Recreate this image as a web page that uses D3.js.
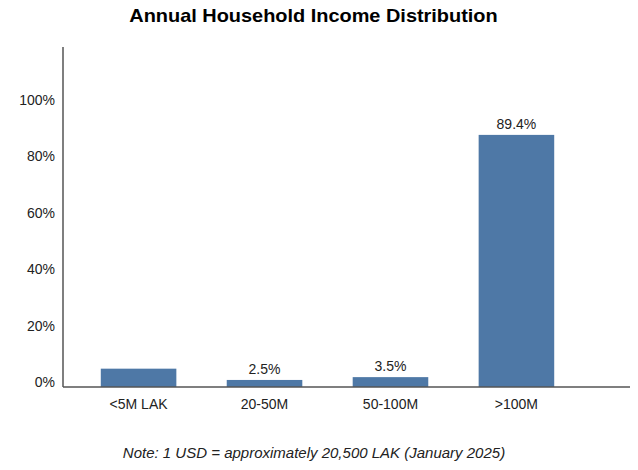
<!DOCTYPE html>
<html>
<head>
<meta charset="utf-8">
<script src="https://cdn.jsdelivr.net/npm/d3@7"></script>
<style>
  html, body { margin: 0; padding: 0; background: #fff; }
  svg { display: block; font-family: "Liberation Sans", Arial, sans-serif; }
</style>
</head>
<body>
<svg id="chart" width="638" height="470"></svg>
<script>
// Income bands and share of households (%)
const categories = ["<5M LAK", "20-50M", "50-100M", ">100M"];
const shares = [6.5, 2.5, 3.5, 89.4];
// Bars that carry a value label
const labelled = [false, true, true, true];
const yTicks = [0, 20, 40, 60, 80, 100];

const svg = d3.select("#chart");
const plotLeft = 63, plotRight = 630, plotTop = 47, plotBottom = 387;

const x = d3.scaleBand()
  .domain(categories)
  .range([plotLeft, 592])
  .paddingInner(0.4)
  .paddingOuter(0.3);

const y = d3.scaleLinear()
  .domain([0, 120])
  .range([plotBottom, 48.6]);

// Title (slightly widened lettering)
svg.append("text")
  .attr("transform", "translate(313.5,22) scale(1.12,1)")
  .attr("text-anchor", "middle")
  .style("font-size", "17.8px").style("font-weight", "bold").style("fill", "#000")
  .text("Annual Household Income Distribution");

// Bars
svg.append("g").selectAll("rect")
  .data(categories)
  .join("rect")
  .attr("x", d => x(d))
  .attr("width", x.bandwidth())
  .attr("y", (d, i) => y(shares[i]))
  .attr("height", (d, i) => y(0) - y(shares[i]))
  .attr("fill", "#4e78a6");

// Value labels
svg.append("g").selectAll("text")
  .data(categories.filter((d, i) => labelled[i]))
  .join("text")
  .attr("x", d => x(d) + x.bandwidth() / 2)
  .attr("y", d => y(shares[categories.indexOf(d)]) - 6)
  .attr("text-anchor", "middle")
  .style("font-size", "14px").style("fill", "#222")
  .text(d => shares[categories.indexOf(d)].toFixed(1) + "%");

// Y axis
const yAxis = svg.append("g")
  .attr("transform", `translate(${plotLeft},0)`)
  .call(d3.axisLeft(y).tickValues(yTicks).tickSize(0).tickSizeOuter(0).tickPadding(8)
    .tickFormat(d => d + "%"));
yAxis.select(".domain").attr("stroke", "#555").attr("stroke-width", 1.5)
  .attr("d", `M0,${plotTop}V${plotBottom}`);
yAxis.selectAll("text")
  .style("font-size", "14px").style("font-family", "'Liberation Sans', Arial, sans-serif")
  .style("fill", "#222").attr("dy", "-0.04em");

// X axis
const xAxis = svg.append("g")
  .attr("transform", `translate(0,${plotBottom})`)
  .call(d3.axisBottom(x).tickSize(0).tickSizeOuter(0).tickPadding(12));
xAxis.select(".domain").attr("stroke", "#555").attr("stroke-width", 1.5)
  .attr("d", `M${plotLeft},0H${plotRight}`);
xAxis.selectAll("text")
  .style("font-size", "14px").style("font-family", "'Liberation Sans', Arial, sans-serif")
  .style("fill", "#222").attr("dy", "0.71em");

// Exchange-rate note
svg.append("text")
  .attr("x", 314).attr("y", 458)
  .attr("text-anchor", "middle")
  .style("font-size", "15px").style("font-style", "italic").style("fill", "#222")
  .text("Note: 1 USD = approximately 20,500 LAK (January 2025)");
</script>
</body>
</html>
